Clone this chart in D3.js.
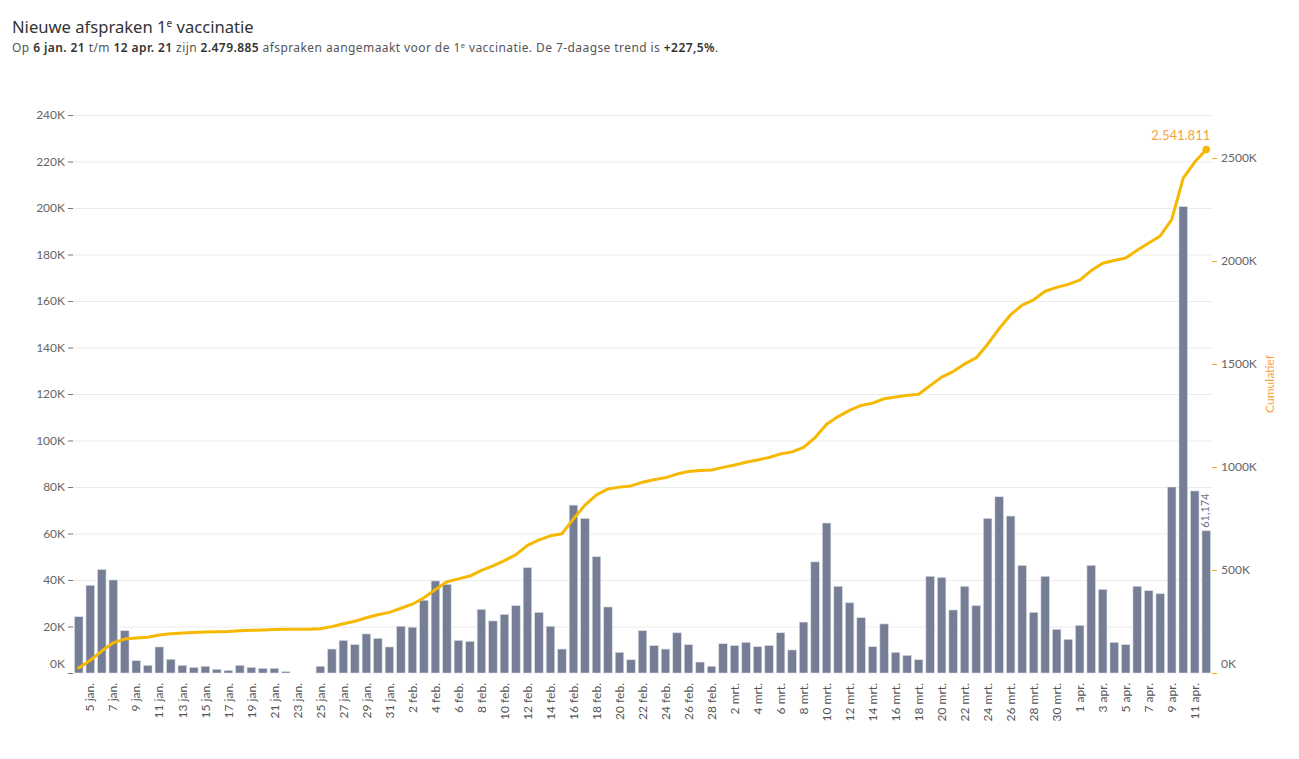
<!DOCTYPE html>
<html><head><meta charset="utf-8">
<script src="https://cdn.jsdelivr.net/npm/d3@7"></script>
<style>
body{margin:0;background:#fff}
text{font-family:Lato,"Noto Sans",sans-serif}
</style>
</head><body>
<svg id="chart" width="1299" height="759"></svg>
<script>
// ---- data ----
const monthNames = ["jan.", "feb.", "mrt.", "apr."];
const monthFirstDay = [4, 1, 1, 1];
const valuesJan = [24200, 37726, 44500, 40000, 18200, 5300, 3300, 11200, 5900, 3300, 2400, 2900, 1600, 1100,
  3300, 2400, 2000, 2000, 600, 0, 0, 2900, 10300, 14000, 12200, 16800, 14900, 11200];
const valuesFeb = [20100, 19700, 31300, 39600, 38100, 14000, 13600, 27400, 22400, 25200, 29000, 45300, 26100, 20100,
  10300, 72200, 66500, 50000, 28400, 8900, 5700, 18200, 11800, 10300, 17300, 12200, 4700, 2900];
const valuesMar = [12600, 11800, 13200, 11300, 11800, 17300, 9900, 21900, 47800, 64500, 37300, 30200, 23800, 11300,
  21100, 8900, 7600, 5700, 41600, 41100, 27100, 37300, 29000, 66500, 75800, 67500, 46300, 26100, 41600, 18800, 14500];
const valuesApr = [20500, 46300, 36000, 13200, 12200, 37300, 35400, 34100, 80000, 200611, 78300, 61174];
const leftTicks = [0, 20000, 40000, 60000, 80000, 100000, 120000, 140000, 160000, 180000, 200000, 220000, 240000];
const rightTicks = [0, 500000, 1000000, 1500000, 2000000, 2500000];
const titleText = "Nieuwe afspraken 1";
const rightAxisTitle = "Cumulatief";

// ---- build categories ----
const monthValues = [valuesJan, valuesFeb, valuesMar, valuesApr];
const cats = [], vals = [];
monthValues.forEach((arr, m) => {
  arr.forEach((v, i) => { cats.push((monthFirstDay[m] + i) + " " + monthNames[m]); vals.push(v); });
});
const cum = Array.from(d3.cumsum(vals));

const nl = d3.formatLocale({decimal: ",", thousands: ".", grouping: [3], currency: ["€", ""]});
const fmtInt = nl.format(",d");

const svg = d3.select("#chart");

// ---- scales ----
const x = d3.scaleBand().domain(cats).range([73, 1212]).paddingInner(0.26).paddingOuter(0.13);
const yL = d3.scaleLinear().domain([0, 240000]).range([673, 115]);
const yR = d3.scaleLinear().domain([0, 2709000]).range([673, 115]);

// ---- title ----
const t = svg.append("text").attr("x", 12).attr("y", 33).attr("font-size", 16.6)
  .style("font-family", "'Noto Sans',sans-serif").attr("fill", "#333");
t.append("tspan").text(titleText);
t.append("tspan").attr("font-size", 10).attr("dy", -6).text("e");
t.append("tspan").attr("dy", 6).text(" vaccinatie");

const s = svg.append("text").attr("x", 12).attr("y", 52).attr("font-size", 12)
  .style("font-family", "'Noto Sans',sans-serif").style("letter-spacing", "0.42px").attr("fill", "#555");
const parts = [["Op ", 0], ["6 jan. 21", 1], [" t/m ", 0], ["12 apr. 21", 1], [" zijn ", 0], ["2.479.885", 1],
  [" afspraken aangemaakt voor de 1", 0]];
parts.forEach(p => s.append("tspan").attr("fill", p[1] ? "#333" : "#555").attr("font-weight", p[1] ? 600 : 400).text(p[0]));
s.append("tspan").attr("font-size", 7.5).attr("dy", -4).text("e");
s.append("tspan").attr("dy", 4).text(" vaccinatie. De 7-daagse trend is ");
s.append("tspan").attr("fill", "#333").attr("font-weight", 600).text("+227,5%");
s.append("tspan").text(".");

// ---- gridlines ----
svg.append("g").selectAll("line").data(leftTicks.slice(1)).join("line")
  .attr("x1", 73).attr("x2", 1212).attr("y1", d => yL(d) + 0.5).attr("y2", d => yL(d) + 0.5)
  .attr("stroke", "#ececec").attr("stroke-width", 1);

// ---- left axis ----
const gL = svg.append("g").attr("transform", "translate(73,0)")
  .call(d3.axisLeft(yL).tickValues(leftTicks).tickSize(5).tickPadding(3).tickFormat(d => (d / 1000) + "K"));
gL.select(".domain").remove();
gL.selectAll(".tick line").attr("stroke", "#777");
gL.selectAll(".tick text").attr("fill", "#666").attr("font-size", 12)
  .attr("dy", d => d === 0 ? "-0.5em" : "0.32em");

// ---- right axis ----
const gR = svg.append("g").attr("transform", "translate(1212,0)")
  .call(d3.axisRight(yR).tickValues(rightTicks).tickSize(5).tickPadding(4).tickFormat(d => (d / 1000) + "K"));
gR.select(".domain").remove();
gR.selectAll(".tick line").attr("stroke", "#f5a623");
gR.selectAll(".tick text").attr("fill", "#666").attr("font-size", 12)
  .attr("dy", d => d === 0 ? "-0.5em" : "0.32em");
svg.append("text").attr("transform", "translate(1274,384) rotate(-90)").attr("text-anchor", "middle")
  .attr("font-size", 12).attr("fill", "#f5a040").text(rightAxisTitle);

// ---- x axis ----
const gX = svg.append("g").attr("transform", "translate(0,673)")
  .call(d3.axisBottom(x).tickValues(cats.filter((c, i) => i % 2 === 1)).tickSize(0).tickPadding(0));
gX.select(".domain").remove();
gX.selectAll(".tick text").attr("transform", "translate(0,10) rotate(-90)").attr("text-anchor", "end")
  .attr("x", 0).attr("y", 0).attr("dy", "0.35em")
  .attr("fill", "#555").attr("font-size", 12);

// ---- bars ----
svg.append("g").selectAll("rect").data(vals).join("rect")
  .attr("x", (d, i) => x(cats[i])).attr("width", x.bandwidth())
  .attr("y", d => yL(d)).attr("height", d => yL(0) - yL(d))
  .attr("fill", "#767e96").attr("stroke", "#d9dce3").attr("stroke-width", 0.6);

// last bar label
const li = vals.length - 1;
const lx = x(cats[li]) + x.bandwidth() / 2;
svg.append("text").attr("transform", `translate(${lx + 3},${yL(vals[li]) - 3}) rotate(-90)`)
  .attr("font-size", 11).attr("fill", "#6f7588").text(nl.format(",.3f")(vals[li] / 1000));

// ---- cumulative line ----
const line = d3.line().x((d, i) => x(cats[i]) + x.bandwidth() / 2).y(d => yR(d));
svg.append("path").datum(cum).attr("d", line).attr("fill", "none")
  .attr("stroke", "#f6b800").attr("stroke-width", 3).attr("stroke-linejoin", "round").attr("stroke-linecap", "round");
svg.append("circle").attr("cx", lx).attr("cy", yR(cum[li])).attr("r", 3.8).attr("fill", "#f6b800");
svg.append("text").attr("x", lx + 4).attr("y", yR(cum[li]) - 9).attr("text-anchor", "end")
  .attr("font-size", 13).attr("fill", "#f5a33a").text(fmtInt(cum[li]));
</script>
</body></html>
